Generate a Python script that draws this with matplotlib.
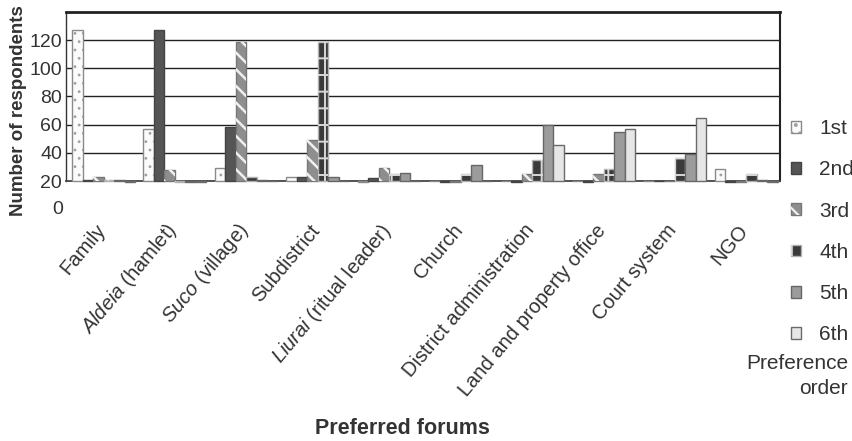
import matplotlib
matplotlib.use("Agg")
import matplotlib.pyplot as plt
from matplotlib.patches import Patch
from matplotlib.legend_handler import HandlerTuple
from matplotlib.transforms import ScaledTranslation
import numpy as np

plt.rcParams['font.family'] = ['Liberation Sans', 'DejaVu Sans']
plt.rcParams['mathtext.fontset'] = 'custom'
plt.rcParams['mathtext.rm'] = 'Liberation Sans'
plt.rcParams['mathtext.it'] = 'Liberation Sans:italic'
plt.rcParams['hatch.linewidth'] = 1.6

# ---- data (values as read on the chart's axis) ----
forums = ["Family", r"$\mathit{Aldeia}$ (hamlet)", r"$\mathit{Suco}$ (village)", "Subdistrict",
          r"$\mathit{Liurai}$ (ritual leader)", "Church", "District administration",
          "Land and property office", "Court system", "NGO"]
orders = ["1st", "2nd", "3rd", "4th", "5th", "6th"]

first  = [127, 57, 29, 23, 19.5, 20, 20, 20, 20, 28.5]
second = [21, 127, 58.5, 22.5, 22, 19.5, 19.5, 19.5, 20, 19.5]
third  = [22.5, 28, 119, 49, 29.5, 19, 25, 25, 20, 19]
fourth = [21, 19.5, 23, 119, 25, 25, 35, 28.5, 36.5, 25]
fifth  = [20.5, 19.5, 21, 22.5, 26, 31.5, 60, 55, 39, 20.5]
sixth  = [19.5, 19.5, 20.3, 20, 20.3, 20.3, 45.5, 57, 65, 19.5]
series = [first, second, third, fourth, fifth, sixth]

yticks = [20, 40, 60, 80, 100, 120]

# ---- styles ----
styles = [
    dict(face="#fbfbfb", edge="#8a8a8a", hatch="..", hcol="#a0a0a0", hlw=0.8),
    dict(face="#555555", edge="#444444", hatch=None, hcol=None, hlw=None),
    dict(face="#8e8e8e", edge="#777777", hatch="\\\\", hcol="#f0f0f0", hlw=1.8),
    dict(face="#3a3a3a", edge="#b0b0b0", hatch="+", hcol="#d8d8d8", hlw=1.4),
    dict(face="#9c9c9c", edge="#666666", hatch=None, hcol=None, hlw=None),
    dict(face="#e6e6e6", edge="#6a6a6a", hatch=None, hcol=None, hlw=None),
]

W, H = 853, 441
fig = plt.figure(figsize=(W / 100, H / 100), dpi=100)
ax = fig.add_axes([65.7 / W, 1 - 181 / H, (780 - 65.7) / W, (181 - 12) / H])

base = 20
x = np.arange(len(forums))
w = 0.147
handles = []
for j, (vals, st) in enumerate(zip(series, styles)):
    xs = x + (j - 2.5) * w
    hts = np.array(vals) - base
    ax.bar(xs, hts, w, bottom=base, color=st["face"], edgecolor=st["edge"],
           linewidth=1.0, zorder=3, clip_on=False)
    if st["hatch"]:
        with plt.rc_context({'hatch.linewidth': st["hlw"]}):
            ax.bar(xs, hts, w, bottom=base, fill=False, hatch=st["hatch"],
                   edgecolor=st["hcol"], linewidth=0, zorder=4, clip_on=False)
            hp = (Patch(facecolor=st["face"], edgecolor=st["edge"], linewidth=1.0),
                  Patch(fill=False, hatch=st["hatch"], edgecolor=st["hcol"], linewidth=0))
    else:
        hp = Patch(facecolor=st["face"], edgecolor=st["edge"], linewidth=1.0)
    handles.append(hp)

ax.set_xlim(-0.53, 9.47)
ax.set_ylim(20, 140)
ax.set_yticks(yticks)
ax.set_yticklabels([str(t) for t in yticks], fontsize=14, color="#333333")
ax.tick_params(axis="y", length=0, pad=2.5)
for yv in yticks[1:]:
    ax.axhline(yv, color="#222222", linewidth=1.0, zorder=1)

ax.text(0, 0, "0", transform=ax.get_yaxis_transform() + ScaledTranslation(-2.5 / 100, 0, fig.dpi_scale_trans),
        ha="right", va="center", fontsize=14, color="#333333", clip_on=False)

ax.set_xticks(x)
ax.set_xticklabels(forums, rotation=50, ha="right", va="center",
                   rotation_mode="anchor", fontsize=14.5, color="#333333")
ax.tick_params(axis="x", length=0, pad=33)
off = ScaledTranslation(-1.5 / 100, 0, fig.dpi_scale_trans)
for lab in ax.get_xticklabels():
    lab.set_transform(lab.get_transform() + off)

ax.spines["top"].set_linewidth(2.0)
ax.spines["top"].set_color("#222222")
ax.spines["right"].set_linewidth(1.5)
ax.spines["right"].set_color("#222222")
ax.spines["left"].set_linewidth(1.0)
ax.spines["left"].set_color("#333333")
ax.spines["bottom"].set_linewidth(1.3)
ax.spines["bottom"].set_color("#444444")

fig.text(19 / W, 1 - 111 / H, "Number of respondents", rotation=90, ha="center", va="center",
         fontsize=13.5, fontweight="bold", color="#333333")
fig.text(402 / W, 1 - 429 / H, "Preferred forums", ha="center", va="center",
         fontsize=15.5, fontweight="bold", color="#333333")

leg = fig.legend(handles, orders, handler_map={tuple: HandlerTuple(ndivide=1)},
                 loc="upper left", bbox_to_anchor=(791 / W, 1 - 119 / H),
                 bbox_transform=fig.transFigure, frameon=False, borderpad=0,
                 borderaxespad=0, handlelength=0.5, handleheight=0.5,
                 handletextpad=0.85, labelspacing=1.07, prop={"size": 15})
for t in leg.get_texts():
    t.set_color("#333333")

fig.text(848 / W, 1 - 376 / H, "Preference\norder", ha="right", va="center",
         multialignment="right", linespacing=1.35, fontsize=15, color="#333333")

fig.savefig("out.png", dpi=100)
